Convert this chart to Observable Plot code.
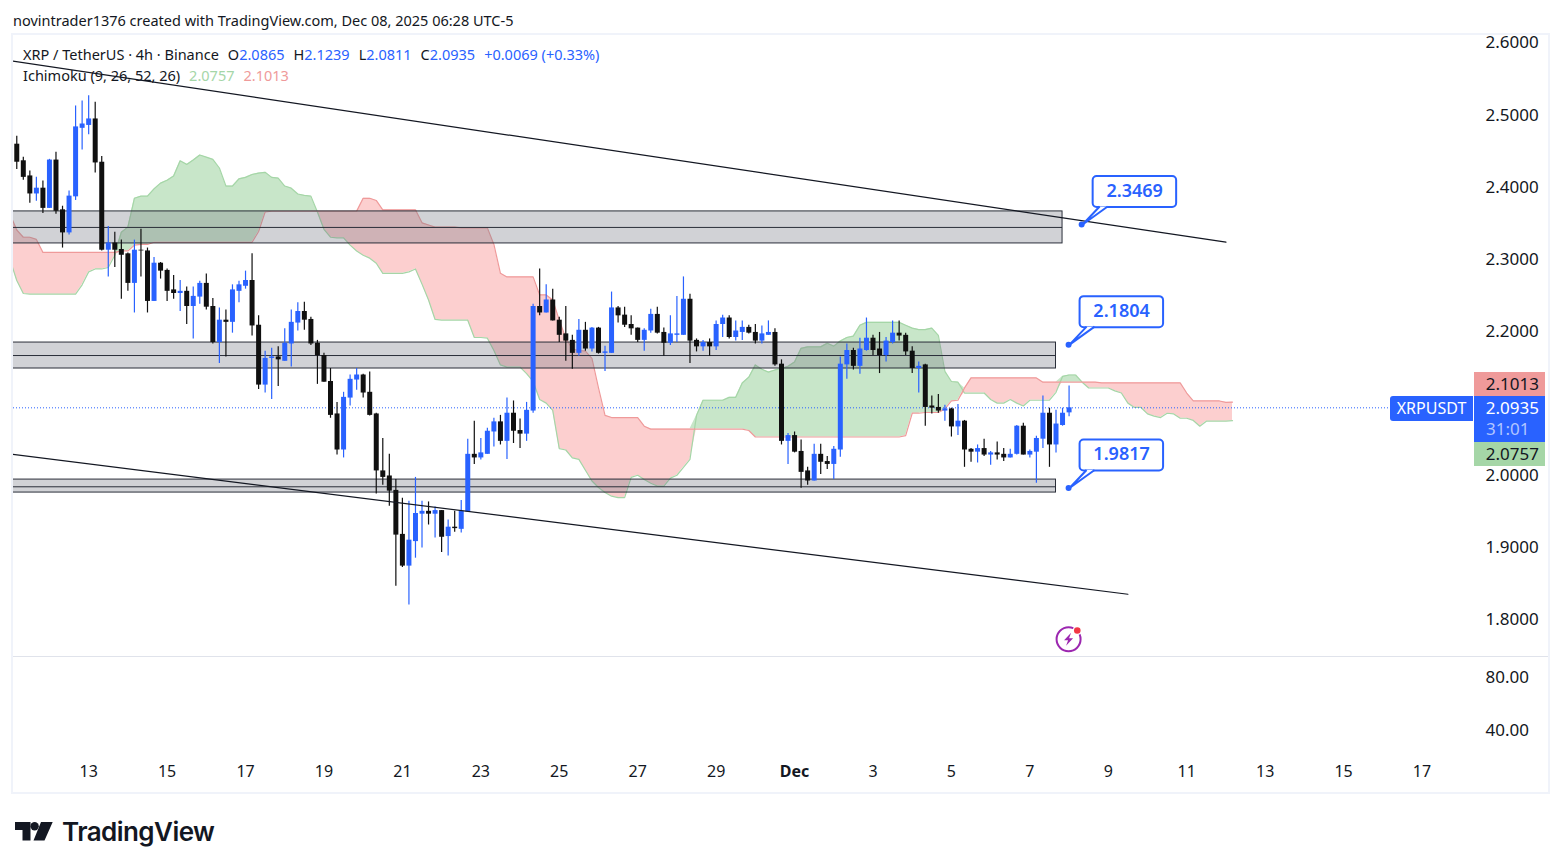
<!DOCTYPE html>
<html><head><meta charset="utf-8">
<script src="https://cdn.jsdelivr.net/npm/d3@7"></script>
<script src="https://cdn.jsdelivr.net/npm/@observablehq/plot@0.6"></script>
<style>
html,body{margin:0;padding:0;background:#fff;width:1563px;height:868px;overflow:hidden}
body{font-family:"Noto Sans",sans-serif;color:#131722;position:relative}
#header{height:34px;font-size:14.5px;line-height:40px;padding-left:13px;box-sizing:border-box;white-space:nowrap}
#frame{position:absolute;left:11px;top:33px;width:1539px;height:761px;border:2px solid #f0f3fa;box-sizing:border-box;pointer-events:none}
#sep{position:absolute;left:13px;top:656px;width:1535px;height:1px;background:#e0e3eb}
#main,#lower{display:block;height:auto}
svg{display:block}
.leg{position:absolute;left:23px;font-size:14.5px;white-space:nowrap;line-height:20px}
.leg b{font-weight:400;color:#2962ff}
.tag{position:absolute;font-size:17px;text-align:right;box-sizing:border-box;line-height:24px}
#footer{position:absolute;left:15px;top:816px;display:flex;align-items:center;height:30px}
#footer span{font-family:Inter,sans-serif;font-weight:600;font-size:26px;letter-spacing:-.55px;margin-left:9px;color:#131722}
</style></head><body>
<div id="header">novintrader1376 created with TradingView.com, Dec 08, 2025 06:28 UTC-5</div>
<div id="main"></div>
<div id="lower"></div>
<div id="sep"></div>
<div id="frame"></div>
<div class="leg" style="top:44px">XRP / TetherUS · 4h · Binance<span style="margin-left:9px">O</span><b>2.0865</b><span style="margin-left:9px">H</span><b>2.1239</b><span style="margin-left:9px">L</span><b>2.0811</b><span style="margin-left:9px">C</span><b>2.0935</b><b style="margin-left:9px">+0.0069 (+0.33%)</b></div>
<div class="leg" style="top:65px">Ichimoku (9, 26, 52, 26)<span style="margin-left:9px;color:#a5d6a7">2.0757</span><span style="margin-left:9px;color:#ef9a9a">2.1013</span></div>
<div id="tags"></div>
<div id="footer"><svg width="38" height="19" viewBox="0 0 38 19"><path d="M0 0H15.5V18.6H7.5V8H0Z M26 0H37.7L29.5 18.6H18.5Z" fill="#131722"/><circle cx="19.6" cy="4.2" r="4.2" fill="#131722"/></svg><span>TradingView</span></div>
<script>
const firstBar = "2025-11-11T04:00Z";
const open = [
2.459,2.436,2.415,2.390,2.398,2.370,2.437,2.368,2.336,2.386,
2.481,2.485,2.494,2.434,2.312,2.322,2.313,2.307,2.266,2.312,
2.311,2.241,2.294,2.284,2.257,2.252,2.255,2.234,2.247,2.266,
2.234,2.184,2.215,2.212,2.255,2.262,2.270,2.208,2.125,2.162,
2.164,2.158,2.182,2.211,2.227,2.216,2.183,2.166,2.130,2.085,
2.035,2.107,2.132,2.139,2.115,2.085,2.006,1.999,1.979,1.918,
1.874,1.908,1.946,1.950,1.946,1.951,1.915,1.928,1.925,1.949,
2.029,2.024,2.029,2.060,2.074,2.047,2.086,2.062,2.057,2.089,
2.234,2.225,2.243,2.215,2.196,2.187,2.169,2.201,2.175,2.204,
2.169,2.169,2.232,2.222,2.209,2.204,2.187,2.200,2.223,2.198,
2.183,2.194,2.194,2.244,2.187,2.178,2.184,2.178,2.209,2.218,
2.191,2.198,2.205,2.198,2.186,2.194,2.198,2.154,2.047,2.055,
2.033,2.006,1.992,2.029,2.019,2.015,2.035,2.153,2.173,2.151,
2.173,2.190,2.175,2.166,2.184,2.197,2.194,2.172,2.148,2.153,
2.096,2.094,2.089,2.092,2.067,2.075,2.036,2.032,2.037,2.028,
2.031,2.029,2.024,2.029,2.068,2.028,2.032,2.050,2.086,2.042,
2.069,2.0865];
const high = [
2.470,2.441,2.422,2.413,2.408,2.438,2.448,2.373,2.394,2.512,
2.519,2.526,2.517,2.442,2.345,2.337,2.326,2.308,2.326,2.341,
2.315,2.302,2.295,2.286,2.277,2.270,2.261,2.261,2.269,2.279,
2.245,2.232,2.229,2.264,2.269,2.283,2.307,2.221,2.172,2.176,
2.178,2.203,2.229,2.239,2.240,2.219,2.187,2.169,2.148,2.101,
2.115,2.139,2.148,2.140,2.143,2.086,2.051,2.029,1.994,1.968,
1.964,1.997,1.964,1.963,1.956,1.951,1.938,1.950,1.965,2.050,
2.075,2.051,2.065,2.079,2.083,2.107,2.103,2.078,2.101,2.237,
2.286,2.264,2.258,2.219,2.234,2.194,2.216,2.212,2.205,2.205,
2.179,2.254,2.234,2.233,2.221,2.204,2.203,2.230,2.233,2.204,
2.221,2.248,2.275,2.251,2.189,2.187,2.189,2.214,2.222,2.221,
2.214,2.214,2.208,2.209,2.207,2.214,2.203,2.160,2.058,2.060,
2.049,2.011,2.043,2.043,2.026,2.040,2.164,2.182,2.176,2.190,
2.218,2.194,2.198,2.191,2.214,2.214,2.197,2.178,2.157,2.154,
2.110,2.112,2.097,2.093,2.098,2.076,2.037,2.042,2.050,2.033,
2.046,2.037,2.036,2.069,2.072,2.035,2.054,2.110,2.093,2.090,
2.093,2.1239];
const low = [
2.424,2.409,2.377,2.380,2.363,2.370,2.362,2.315,2.333,2.381,
2.451,2.472,2.419,2.311,2.275,2.288,2.244,2.255,2.225,2.275,
2.225,2.241,2.272,2.241,2.244,2.227,2.209,2.189,2.237,2.229,
2.182,2.155,2.164,2.197,2.239,2.258,2.193,2.119,2.114,2.105,
2.123,2.158,2.150,2.200,2.201,2.180,2.126,2.129,2.079,2.028,
2.024,2.096,2.118,2.107,2.082,1.974,1.986,1.957,1.846,1.872,
1.820,1.885,1.899,1.931,1.913,1.893,1.888,1.921,1.920,1.949,
2.015,2.021,2.029,2.039,2.042,2.022,2.044,2.037,2.047,2.086,
2.221,2.225,2.214,2.184,2.158,2.147,2.165,2.172,2.171,2.168,
2.144,2.169,2.211,2.205,2.194,2.184,2.172,2.197,2.196,2.165,
2.180,2.184,2.194,2.155,2.171,2.172,2.165,2.173,2.191,2.189,
2.186,2.187,2.196,2.182,2.182,2.194,2.151,2.042,2.015,2.031,
1.982,1.986,1.992,2.001,2.008,1.994,2.025,2.133,2.146,2.140,
2.172,2.166,2.141,2.157,2.182,2.186,2.166,2.141,2.114,2.068,
2.085,2.086,2.075,2.053,2.055,2.011,2.018,2.017,2.026,2.014,
2.021,2.019,2.024,2.028,2.028,2.024,1.989,2.037,2.011,2.031,
2.068,2.0811];
const close = [
2.434,2.413,2.390,2.398,2.370,2.437,2.366,2.336,2.387,2.483,
2.487,2.494,2.433,2.312,2.322,2.312,2.305,2.266,2.312,2.311,
2.241,2.294,2.283,2.255,2.252,2.255,2.234,2.248,2.266,2.233,
2.184,2.215,2.212,2.257,2.264,2.270,2.207,2.125,2.162,2.164,
2.160,2.183,2.212,2.227,2.215,2.182,2.166,2.129,2.083,2.035,
2.108,2.133,2.139,2.114,2.083,2.006,1.997,1.978,1.917,1.874,
1.910,1.947,1.950,1.946,1.951,1.914,1.928,1.926,1.950,2.029,
2.024,2.031,2.061,2.074,2.047,2.086,2.061,2.057,2.090,2.234,
2.225,2.243,2.214,2.194,2.186,2.169,2.201,2.175,2.204,2.169,
2.171,2.232,2.221,2.208,2.203,2.187,2.201,2.223,2.197,2.183,
2.196,2.196,2.244,2.186,2.178,2.184,2.178,2.209,2.218,2.191,
2.200,2.205,2.197,2.186,2.196,2.198,2.153,2.047,2.055,2.032,
2.004,1.992,2.029,2.018,2.015,2.036,2.154,2.173,2.151,2.175,
2.190,2.173,2.166,2.186,2.197,2.193,2.171,2.148,2.151,2.094,
2.093,2.089,2.092,2.067,2.075,2.035,2.032,2.037,2.028,2.031,
2.028,2.024,2.029,2.068,2.028,2.033,2.051,2.086,2.042,2.071,
2.086,2.0935];
// Ichimoku leading spans, one value per bar, starting one bar before the first candle
const spanA = [
2.298,2.270,2.252,2.251,2.251,2.251,2.251,2.251,2.251,2.251,
2.251,2.264,2.282,2.286,2.286,2.288,2.305,2.337,2.344,2.384,
2.387,2.387,2.397,2.405,2.409,2.415,2.436,2.431,2.437,2.444,
2.441,2.438,2.426,2.401,2.401,2.411,2.413,2.417,2.419,2.420,
2.413,2.412,2.401,2.398,2.390,2.388,2.387,2.365,2.341,2.330,
2.329,2.329,2.319,2.311,2.305,2.301,2.294,2.280,2.280,2.280,
2.280,2.282,2.286,2.265,2.243,2.216,2.215,2.215,2.215,2.215,
2.215,2.191,2.191,2.190,2.173,2.153,2.150,2.150,2.150,2.141,
2.130,2.105,2.100,2.090,2.037,2.035,2.024,2.022,2.007,1.992,
1.983,1.976,1.971,1.969,1.969,1.997,2.000,1.994,1.989,1.985,
1.985,1.996,2.000,2.011,2.022,2.083,2.104,2.104,2.104,2.104,
2.108,2.108,2.128,2.136,2.153,2.147,2.143,2.146,2.148,2.151,
2.157,2.176,2.178,2.178,2.178,2.183,2.179,2.186,2.191,2.193,
2.208,2.212,2.212,2.212,2.212,2.212,2.212,2.208,2.204,2.202,
2.202,2.204,2.194,2.144,2.130,2.129,2.114,2.114,2.114,2.114,
2.105,2.100,2.100,2.105,2.100,2.096,2.104,2.104,2.104,2.104,
2.115,2.137,2.139,2.139,2.129,2.121,2.121,2.121,2.121,2.117,
2.114,2.100,2.094,2.094,2.085,2.082,2.080,2.086,2.085,2.079,
2.079,2.076,2.068,2.075,2.075,2.075,2.075,2.0757];
const spanB = [
2.361,2.340,2.330,2.330,2.327,2.309,2.309,2.309,2.309,2.309,
2.309,2.309,2.309,2.309,2.309,2.309,2.309,2.311,2.311,2.319,
2.320,2.320,2.323,2.323,2.323,2.323,2.323,2.323,2.323,2.323,
2.323,2.323,2.323,2.323,2.323,2.323,2.323,2.323,2.338,2.365,
2.366,2.366,2.366,2.366,2.366,2.366,2.366,2.366,2.366,2.366,
2.366,2.366,2.366,2.366,2.384,2.384,2.381,2.368,2.368,2.368,
2.368,2.368,2.368,2.350,2.347,2.344,2.344,2.344,2.344,2.343,
2.343,2.343,2.343,2.343,2.320,2.280,2.275,2.275,2.275,2.275,
2.275,2.250,2.250,2.243,2.215,2.190,2.175,2.173,2.172,2.162,
2.121,2.083,2.080,2.080,2.080,2.080,2.080,2.068,2.064,2.064,
2.064,2.064,2.064,2.064,2.064,2.064,2.064,2.064,2.064,2.064,
2.064,2.064,2.064,2.062,2.053,2.053,2.053,2.053,2.053,2.053,
2.053,2.053,2.053,2.053,2.053,2.053,2.053,2.053,2.053,2.053,
2.053,2.053,2.053,2.053,2.053,2.053,2.053,2.055,2.086,2.086,
2.087,2.087,2.087,2.092,2.103,2.104,2.121,2.135,2.135,2.135,
2.135,2.135,2.135,2.135,2.135,2.135,2.135,2.135,2.129,2.129,
2.129,2.129,2.129,2.129,2.129,2.129,2.129,2.128,2.128,2.128,
2.128,2.128,2.128,2.128,2.128,2.128,2.128,2.128,2.128,2.128,
2.114,2.103,2.103,2.103,2.103,2.103,2.101,2.1013];
const zoneTop = [2.3658, 2.184, 1.994];
const zoneMid = [2.3436, 2.166, 1.984];
const zoneBottom = [2.3214, 2.148, 1.976];
const zoneEnd = ["2025-12-07T20:00Z","2025-12-07T16:00Z","2025-12-07T16:00Z"];
const trendStart = ["2025-11-11T00:00Z","2025-11-11T00:00Z"];
const trendEnd = ["2025-12-12T00:00Z","2025-12-09T12:00Z"];
const trendStartPrice = [2.5748, 2.0295];
const trendEndPrice = [2.3232, 1.835];
const calloutPrices = [2.3469, 2.1804, 1.9817];
const calloutTimes = ["2025-12-08T08:00Z","2025-12-08T00:00Z","2025-12-08T00:00Z"];
const priceTicks = [1.8,1.9,2.0,2.2,2.3,2.4,2.5,2.6];
const lowerTicks = [40,80];
const dayTicks = ["2025-11-13","2025-11-15","2025-11-17","2025-11-19","2025-11-21","2025-11-23","2025-11-25","2025-11-27","2025-11-29","2025-12-03","2025-12-05","2025-12-07","2025-12-09","2025-12-11","2025-12-13","2025-12-15","2025-12-17"].map(d=>new Date(d));
const monthTicks = [new Date("2025-12-01")];
const lastClose = 2.0935;
const alertTime = "2025-12-08T00:00Z", alertPrice = 1.772;

const H4 = 4*3600*1000, t0 = +new Date(firstBar);
const FONT = '"Noto Sans",sans-serif', BLUE = "#2962ff", INK = "#131722";
const bars = open.map((o,i)=>({t:new Date(t0+i*H4),o,h:high[i],l:low[i],c:close[i],col:close[i]>=o?BLUE:"#101010"}));
const cloud = spanA.map((a,i)=>({t:new Date(t0+(i-1)*H4),a,b:spanB[i]}));
const zones = zoneTop.map((top,i)=>({top,mid:zoneMid[i],bot:zoneBottom[i],start:new Date("2025-11-01T00:00Z"),end:new Date(zoneEnd[i])}));
const trends = trendStart.map((s,i)=>[{t:new Date(s),p:trendStartPrice[i],k:i},{t:new Date(trendEnd[i]),p:trendEndPrice[i],k:i}]).flat();
const domainX = [new Date("2025-11-11T02:00Z"), new Date("2025-12-18T07:30Z")];
const svgEl = n => document.createElementNS("http://www.w3.org/2000/svg", n);
function el(n, attrs, parent, text){const e=svgEl(n);for(const k in attrs)e.setAttribute(k,attrs[k]);if(text)e.textContent=text;parent.appendChild(e);return e;}

const calloutMark = (index, scales) => {
  const g = svgEl("g");
  calloutPrices.forEach((p,i)=>{
    const x = scales.x(new Date(calloutTimes[i])), y = scales.y(p);
    const c = el("g",{transform:`translate(${x},${y})`},g);
    el("rect",{x:11,y:-48.5,width:83.5,height:31,rx:4,fill:"#fff",stroke:BLUE,"stroke-width":2},c);
    el("path",{d:"M18,-18 L1,0 L26,-18",fill:"#fff",stroke:BLUE,"stroke-width":2},c);
    el("circle",{r:3,fill:BLUE},c);
    el("text",{x:53,y:-27.5,"text-anchor":"middle",fill:BLUE,"font-size":18,"font-weight":600,"font-family":FONT},c,p.toFixed(4));
  });
  return g;
};
const alertMark = (index, scales) => {
  const c = svgEl("g");
  c.setAttribute("transform",`translate(${scales.x(new Date(alertTime))},${scales.y(alertPrice)})`);
  el("circle",{r:12,fill:"none",stroke:"#9c27b0","stroke-width":2},c);
  el("path",{d:"M2.5,-6.5 L-4.5,1 L-0.5,1 L-2.5,6.5 L4.5,-1 L0.5,-1 Z",fill:"#9c27b0"},c);
  el("circle",{cx:8.7,cy:-8.7,r:4.6,fill:"#fff"},c);
  el("circle",{cx:8.7,cy:-8.7,r:3.3,fill:"#f23645"},c);
  return c;
};

const main = Plot.plot({
  width:1563,height:622,marginLeft:13,marginRight:90,marginTop:8,marginBottom:37,
  style:{background:"transparent",fontFamily:FONT,fontSize:"17px",color:INK,overflow:"visible"},
  x:{type:"utc",domain:domainX,axis:null},
  y:{domain:[1.8,2.6]},
  marks:[
    Plot.areaY(cloud,{x:"t",y1:"b",y2:d=>Math.max(d.a,d.b),fill:"#c8e6c9",clip:true}),
    Plot.areaY(cloud,{x:"t",y1:"b",y2:d=>Math.min(d.a,d.b),fill:"#fccfcf",clip:true}),
    Plot.lineY(cloud,{x:"t",y:"a",stroke:"#a5d6a7",strokeWidth:1.2,clip:true}),
    Plot.lineY(cloud,{x:"t",y:"b",stroke:"#ef9a9a",strokeWidth:1.2,clip:true}),
    Plot.rect(zones,{x1:"start",x2:"end",y1:"bot",y2:"top",fill:"#787b86",fillOpacity:.34,stroke:"#2a2e39",strokeWidth:1,clip:true}),
    Plot.ruleY(zones,{y:"mid",x1:"start",x2:"end",stroke:"#2a2e39",strokeWidth:1,clip:true}),
    Plot.ruleY([lastClose],{stroke:BLUE,strokeWidth:1,strokeDasharray:"1,2"}),
    Plot.ruleX(bars,{x:"t",y1:"l",y2:"h",stroke:"col",strokeWidth:1.2}),
    Plot.ruleX(bars,{x:"t",y1:"o",y2:"c",stroke:"col",strokeWidth:5}),
    Plot.line(trends,{x:"t",y:"p",z:"k",stroke:INK,strokeWidth:1.2,clip:true}),
    calloutMark, alertMark,
    Plot.axisY({anchor:"right",ticks:priceTicks,tickFormat:d=>d.toFixed(4),tickSize:0,tickPadding:12,fontSize:17,dy:0.5,label:null})
  ]
});
document.getElementById("main").append(main);

const lower = Plot.plot({
  width:1563,height:137,marginLeft:13,marginRight:90,marginTop:21,marginBottom:63,
  style:{background:"transparent",fontFamily:FONT,fontSize:"16px",color:INK,overflow:"visible"},
  x:{type:"utc",domain:domainX},
  y:{domain:[40,80]},
  marks:[
    Plot.axisY({anchor:"right",ticks:lowerTicks,tickFormat:d=>d.toFixed(2),tickSize:0,tickPadding:12,fontSize:17,label:null}),
    Plot.axisX({ticks:dayTicks,tickFormat:d=>d.getUTCDate(),tickSize:0,tickPadding:35,fontSize:16,label:null}),
    Plot.axisX({ticks:monthTicks,tickFormat:()=>"Dec",tickSize:0,tickPadding:35,fontSize:16,fontWeight:700,label:null})
  ]
});
document.getElementById("lower").append(lower);

// last-value tags on the price scale, stacked around the last close
const yS = main.scale("y");
const blueTop = 34 + yS.apply(lastClose) - 11.6;
const tags = [
  {text:spanB[spanB.length-1].toFixed(4),left:1474,w:71,top:blueTop-24,h:24,bg:"#ef9a9a",col:INK},
  {text:lastClose.toFixed(4),left:1474,w:71,top:blueTop,h:46,bg:BLUE,col:"#fff",sub:"31:01"},
  {text:spanA[spanA.length-1].toFixed(4),left:1474,w:71,top:blueTop+46.5,h:24,bg:"#a5d6a7",col:INK},
  {text:"XRPUSDT",left:1390,w:83,top:blueTop,h:25,bg:BLUE,col:"#fff",center:true}
];
const tagsEl = document.getElementById("tags");
for(const t of tags){
  const d=document.createElement("div");d.className="tag";
  d.style.cssText=`left:${t.left}px;top:${t.top}px;width:${t.w}px;height:${t.h}px;background:${t.bg};color:${t.col};padding-right:${t.center?0:6}px;text-align:${t.center?"center":"right"};border-radius:${t.center?"3px 0 0 3px":"0"};font-size:${t.center?16:17}px`;
  d.textContent=t.text;
  if(t.sub){const s=document.createElement("div");s.textContent=t.sub;s.style.cssText="color:#b2c5ff;text-align:left;padding-left:12px;line-height:18px";d.append(s);}
  tagsEl.append(d);
}
</script></body></html>
